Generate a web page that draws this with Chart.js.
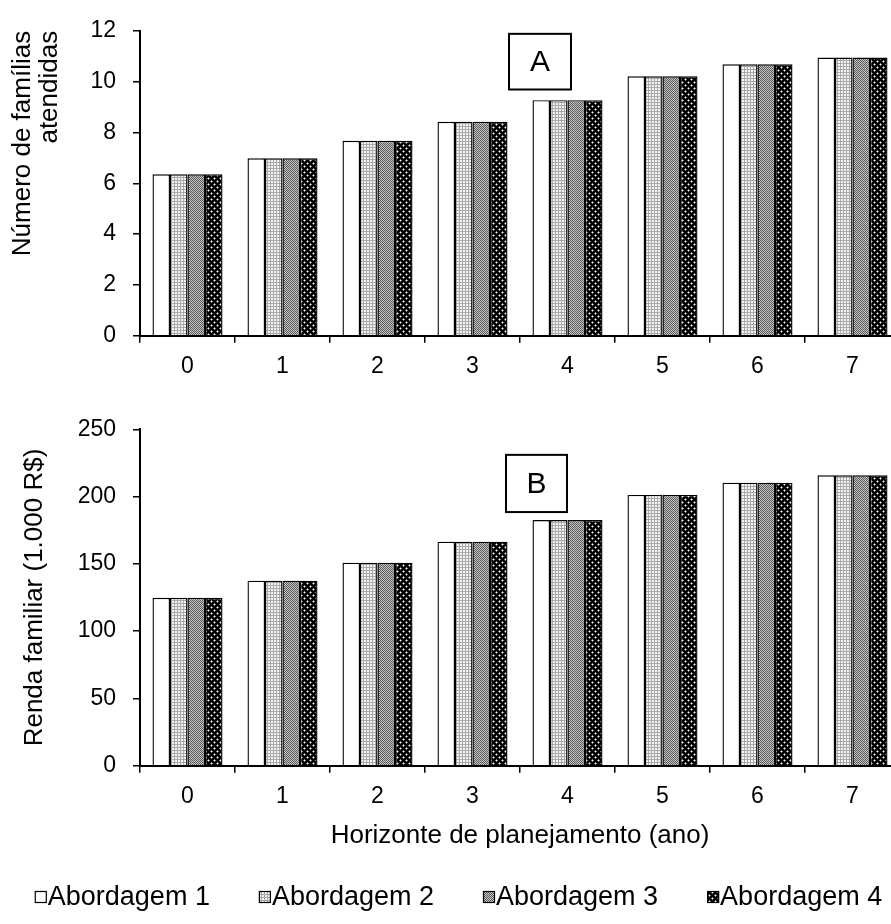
<!DOCTYPE html>
<html>
<head>
<meta charset="utf-8">
<script src="https://cdn.jsdelivr.net/npm/chart.js@4.4.1/dist/chart.umd.min.js"></script>
<style>
html, body { margin: 0; padding: 0; background: #fff; overflow: hidden; width: 891px; height: 924px; }
#top-chart { position: absolute; left: 0; top: 0; }
#bottom-chart { position: absolute; left: 0; top: 390px; }
</style>
</head>
<body>
<canvas id="top-chart" width="902" height="390"></canvas>
<canvas id="bottom-chart" width="902" height="534"></canvas>
<script>
// data
const years = ['0', '1', '2', '3', '4', '5', '6', '7']
const seriesNames = ['Abordagem 1', 'Abordagem 2', 'Abordagem 3', 'Abordagem 4']

// A - numero de familias atendidas
const familias1 = [6.35, 6.98, 7.67, 8.42, 9.27, 10.21, 10.68, 10.95]
const familias2 = [6.35, 6.98, 7.67, 8.42, 9.27, 10.21, 10.68, 10.95]
const familias3 = [6.35, 6.98, 7.67, 8.42, 9.27, 10.21, 10.68, 10.95]
const familias4 = [6.35, 6.98, 7.67, 8.42, 9.27, 10.21, 10.68, 10.95]

// B - renda familiar (1.000 R$)
const renda1 = [124.8, 137.5, 150.9, 166.5, 182.6, 201.2, 210.3, 215.8]
const renda2 = [124.8, 137.5, 150.9, 166.5, 182.6, 201.2, 210.3, 215.8]
const renda3 = [124.8, 137.5, 150.9, 166.5, 182.6, 201.2, 210.3, 215.8]
const renda4 = [124.8, 137.5, 150.9, 166.5, 182.6, 201.2, 210.3, 215.8]

const FONT = '"Liberation Sans", Arial, sans-serif'

// hatch patterns like the old excel fills
const makePattern = (size, draw) => {
    const c = document.createElement('canvas')
    c.width = size
    c.height = size
    const g = c.getContext('2d')
    draw(g)
    return g.createPattern(c, 'repeat')
}

const dot = (g, x, y) => {
    g.fillStyle = '#7a7a7a'
    g.fillRect(x - 1, y, 3, 1)
    g.fillRect(x, y - 1, 1, 3)
    g.fillStyle = '#fff'
    g.fillRect(x, y, 1, 1)
}

const fills = [
    '#ffffff',
    makePattern(3, (g) => {
        g.fillStyle = '#f4f4f4'
        g.fillRect(0, 0, 3, 3)
        g.fillStyle = '#a8a8a8'
        g.fillRect(0, 0, 3, 1)
        g.fillRect(0, 0, 1, 3)
    }),
    makePattern(2, (g) => {
        g.fillStyle = '#c4c4c4'
        g.fillRect(0, 0, 2, 2)
        g.fillStyle = '#5c5c5c'
        g.fillRect(0, 0, 1, 1)
        g.fillRect(1, 1, 1, 1)
    }),
    makePattern(6, (g) => {
        g.fillStyle = '#000'
        g.fillRect(0, 0, 6, 6)
        dot(g, 1, 1)
        dot(g, 4, 4)
    })
]

// "A" / "B" box in the plot
const boxLabel = {
    id: 'boxLabel',
    afterDatasetsDraw(chart, args, o) {
        const {ctx, chartArea, scales} = chart
        const x0 = chartArea.left + o.left
        const x1 = chartArea.left + o.right
        const y0 = scales.y.getPixelForValue(o.top)
        const y1 = scales.y.getPixelForValue(o.bottom)
        ctx.save()
        ctx.fillStyle = '#fff'
        ctx.fillRect(x0, y0, x1 - x0, y1 - y0)
        ctx.strokeStyle = '#000'
        ctx.lineWidth = 2
        ctx.strokeRect(x0, y0, x1 - x0, y1 - y0)
        ctx.fillStyle = '#000'
        ctx.font = `30px ${FONT}`
        ctx.textAlign = 'center'
        ctx.textBaseline = 'middle'
        ctx.fillText(o.text, (x0 + x1) / 2, (y0 + y1) / 2 + 1)
        ctx.restore()
    }
}

// excel style legend: tiny box glued to the text
const legendRow = {
    id: 'legendRow',
    afterDraw(chart, args, o) {
        if (!o.show) return
        const {ctx} = chart
        const sets = chart.data.datasets
        ctx.save()
        ctx.font = `${o.size}px ${FONT}`
        const widths = sets.map((d) => o.box + o.gap + ctx.measureText(d.label).width)
        const total = widths.reduce((a, b) => a + b, 0) + o.spacing * (sets.length - 1)
        let x = o.centerX - total / 2
        sets.forEach((d, i) => {
            ctx.fillStyle = d.backgroundColor
            ctx.fillRect(x, o.y - o.box / 2, o.box, o.box)
            ctx.strokeStyle = '#000'
            ctx.lineWidth = 1.2
            ctx.strokeRect(x + 0.5, o.y - o.box / 2 + 0.5, o.box - 1, o.box - 1)
            ctx.fillStyle = '#000'
            ctx.textAlign = 'left'
            ctx.textBaseline = 'middle'
            ctx.fillText(d.label, x + o.box + o.gap, o.y + 1)
            x += widths[i] + o.spacing
        })
        ctx.restore()
    }
}

const buildDatasets = (lists) => lists.map((values, i) => ({
    label: seriesNames[i],
    data: values,
    backgroundColor: fills[i],
    borderColor: '#000',
    borderWidth: 1.4,
    borderSkipped: 'bottom',
    categoryPercentage: 0.737,
    barPercentage: 1
}))

const makeChart = (id, lists, yMax, yStep, yTitle, extra) => {
    const ctx = document.querySelector(`#${id}`).getContext('2d')
    return new Chart(ctx, {
        type: 'bar',
        data: {labels: years, datasets: buildDatasets(lists)},
        plugins: [boxLabel, legendRow],
        options: {
            responsive: false,
            animation: false,
            events: [],
            layout: {padding: extra.padding},
            plugins: {
                legend: {display: false},
                tooltip: {enabled: false},
                boxLabel: extra.box,
                legendRow: extra.legend
            },
            scales: {
                x: {
                    grid: {drawOnChartArea: false, drawTicks: true, tickLength: 7, color: '#000', lineWidth: 1.5, offset: true},
                    border: {display: true, color: '#000', width: 2},
                    ticks: {color: '#000', padding: 10, font: {family: FONT, size: 23}, maxRotation: 0},
                    title: extra.xTitle,
                    afterFit: (scale) => { scale.height = extra.xHeight }
                },
                y: {
                    min: 0,
                    max: yMax,
                    grid: {drawOnChartArea: false, drawTicks: true, tickLength: 7, color: '#000', lineWidth: 1.5},
                    border: {display: true, color: '#000', width: 2},
                    ticks: {stepSize: yStep, color: '#000', padding: 17, font: {family: FONT, size: 23}},
                    title: yTitle,
                    afterFit: (scale) => { scale.width = 140 }
                }
            }
        }
    })
}

const topChart = makeChart('top-chart', [familias1, familias2, familias3, familias4], 12, 2,
    {
        display: true,
        text: ['Número de famílias', 'atendidas'],
        color: '#000',
        align: 'end',
        font: {family: FONT, size: 26, lineHeight: 1.04},
        padding: {top: 9.5, bottom: 0}
    },
    {
        padding: {top: 30, right: 2, left: 0, bottom: 9.3},
        legend: {show: false},
        xTitle: {display: false},
        xHeight: 45,
        box: {text: 'A', left: 369, right: 431, top: 11.88, bottom: 9.69}
    })

const bottomChart = makeChart('bottom-chart', [renda1, renda2, renda3, renda4], 250, 50,
    {
        display: true,
        text: 'Renda familiar (1.000 R$)',
        color: '#000',
        font: {family: FONT, size: 26, lineHeight: 1.04},
        padding: {top: 21.5, bottom: 0}
    },
    {
        padding: {top: 39.3, right: 2, left: 0, bottom: 74.3},
        legend: {show: true, size: 27, box: 12, gap: 1, spacing: 49, centerX: 458.5, y: 507},
        xTitle: {
            display: true,
            text: 'Horizonte de planejamento (ano)',
            color: '#000',
            font: {family: FONT, size: 26, lineHeight: 1.04},
            padding: {top: 0, bottom: 0.5}
        },
        xHeight: 84,
        box: {text: 'B', left: 366, right: 427, top: 231, bottom: 188.5}
    })
</script>
</body>
</html>
